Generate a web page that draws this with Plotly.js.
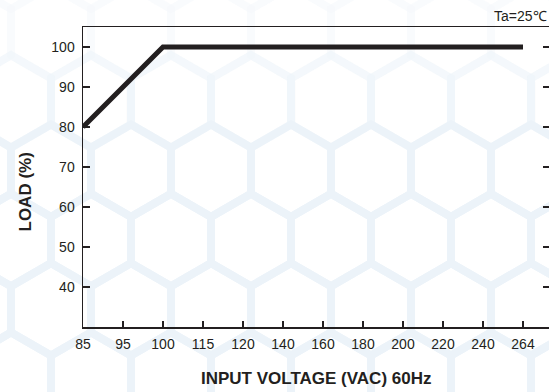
<!DOCTYPE html>
<html>
<head>
<meta charset="utf-8">
<script src="https://cdn.plot.ly/plotly-3.0.1.min.js"></script>
<style>html,body{margin:0;padding:0;background:#fff;}#chart{width:549px;height:392px;}</style>
</head>
<body>
<div id="chart"></div>
<script>
// ---- data ----
const voltageTicks = ['85','95','100','115','120','140','160','180','200','220','240','264'];
const loadTicks = [40, 50, 60, 70, 80, 90, 100];
const lineVoltage = ['85', '100', '264'];
const lineLoad = [80, 100, 100];
const xTitle = 'INPUT VOLTAGE (VAC) 60Hz';
const yTitle = 'LOAD (%)';
const noteText = 'Ta=25℃';

// ---- layout geometry (pixels) ----
const W = 549, H = 392;
const L = 83, R = 0, T = 27, B = 65;
const plotW = W - L - R, plotH = H - T - B;
const px = X => (X - L) / plotW;
const py = Y => (H - B - Y) / plotH;

// decorative hexagon watermark
const shapes = [];
const hexW = 80, rowH = 69.3, rad = 46.2;
for (let k = -4; k <= 3; k++) {
  const cy = 240 + rowH * k;
  const x0 = (k % 2 === 0) ? 251 : 211;
  let alpha = 1;
  if (cy < 60) alpha = 0.15; else if (cy < 130) alpha = 0.5;
  for (let n = -4; n <= 5; n++) {
    const cx = x0 + hexW * n;
    if (cx < -60 || cx > W + 60) continue;
    const pts = [
      [cx, cy - rad], [cx + hexW / 2, cy - rad / 2], [cx + hexW / 2, cy + rad / 2],
      [cx, cy + rad], [cx - hexW / 2, cy + rad / 2], [cx - hexW / 2, cy - rad / 2]
    ];
    const path = 'M' + pts.map(p => px(p[0]).toFixed(4) + ',' + py(p[1]).toFixed(4)).join(' L') + ' Z';
    shapes.push({
      type: 'path', path: path, xref: 'paper', yref: 'paper', layer: 'below',
      line: {color: 'rgba(236,243,249,' + alpha + ')', width: 8}
    });
  }
}

const ink = '#231f20';
const tickFont = {family: 'Liberation Sans, Arial, sans-serif', size: 14, color: ink};

const traces = [
  {
    x: lineVoltage, y: lineLoad, type: 'scatter', mode: 'lines',
    line: {color: ink, width: 5}, hoverinfo: 'skip', showlegend: false
  },
  {
    x: [voltageTicks[0]], y: [loadTicks[0]], yaxis: 'y2', type: 'scatter', mode: 'markers',
    marker: {opacity: 0}, hoverinfo: 'skip', showlegend: false
  }
];

const layout = {
  width: W, height: H,
  margin: {l: L, r: R, t: T, b: B, pad: 0},
  paper_bgcolor: 'rgba(0,0,0,0)', plot_bgcolor: 'rgba(0,0,0,0)',
  showlegend: false,
  font: tickFont,
  xaxis: {
    type: 'category', categoryorder: 'array', categoryarray: voltageTicks,
    tickvals: voltageTicks, ticktext: voltageTicks,
    range: [0, plotW / 40],
    showline: true, mirror: true, linecolor: ink, linewidth: 1.5,
    ticks: 'inside', ticklen: 6, tickwidth: 1.5, tickcolor: ink,
    showgrid: false, zeroline: false, tickfont: tickFont, ticklabelstandoff: 4
  },
  yaxis: {
    range: [30, 105], tickmode: 'array', tickvals: loadTicks,
    showline: true, linecolor: ink, linewidth: 1.5,
    ticks: 'inside', ticklen: 7, tickwidth: 1.5, tickcolor: ink,
    showgrid: false, zeroline: false, tickfont: tickFont, ticklabelstandoff: 4
  },
  yaxis2: {
    overlaying: 'y', side: 'right', anchor: 'free', position: 1,
    range: [30, 105], tickmode: 'array', tickvals: loadTicks,
    showline: false, ticks: 'inside', ticklen: 6, tickwidth: 1.5, tickcolor: ink,
    showticklabels: false, showgrid: false, zeroline: false
  },
  shapes: shapes,
  annotations: [
    {
      text: noteText, xref: 'paper', yref: 'paper', x: 1, xanchor: 'right',
      y: py(16), yanchor: 'middle', showarrow: false,
      font: {family: 'Liberation Sans, Arial, sans-serif', size: 14, color: ink}
    },
    {
      text: '<b>' + yTitle + '</b>', xref: 'paper', yref: 'paper', textangle: -90,
      x: px(24.5), xanchor: 'center', y: py(192), yanchor: 'middle', showarrow: false,
      font: {family: 'Liberation Sans, Arial, sans-serif', size: 17, color: ink}
    },
    {
      text: '<b>' + xTitle + '</b>', xref: 'paper', yref: 'paper',
      x: 0.5, xanchor: 'center', y: py(378), yanchor: 'middle', showarrow: false,
      font: {family: 'Liberation Sans, Arial, sans-serif', size: 17, color: ink}
    }
  ]
};

Plotly.newPlot('chart', traces, layout, {displayModeBar: false, staticPlot: true});
</script>
</body>
</html>
